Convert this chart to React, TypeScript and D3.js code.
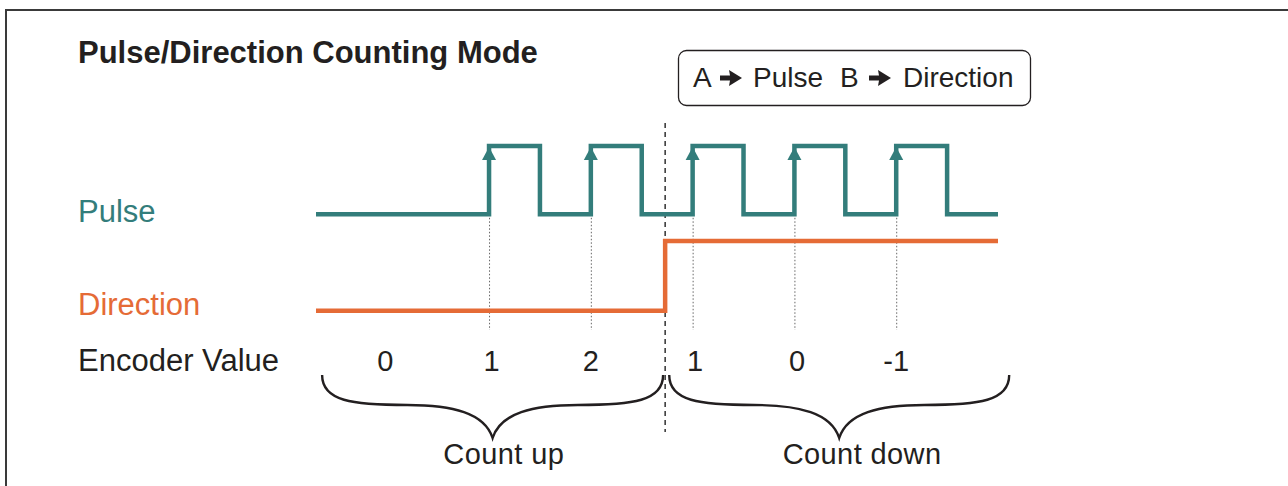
import React from "react";
import * as d3 from "d3";

// ---- data ----
const pulseTimes = [0, 3.4, 4.4, 5.4, 6.4, 7.4, 8.4, 9.4, 10.4, 11.4, 12.4, 13.4];
const pulseLevels = [0, 1, 0, 1, 0, 1, 0, 1, 0, 1, 0, 0];
const directionTimes = [0, 6.86, 13.4];
const directionLevels = [0, 1, 1];
const risingEdges = [3.4, 5.4, 7.4, 9.4, 11.4];
const directionChange = 6.86;
const encoderLabels = ["0", "1", "2", "1", "0", "-1"];
const encoderTimes = [1.36, 3.45, 5.4, 7.45, 9.45, 11.4];
const braceLabels = ["Count up", "Count down"];
const braceStarts = [0.12, 6.94];
const braceEnds = [6.82, 13.62];
const braceLabelTimes = [3.69, 10.73];
const signalLabels = ["Pulse", "Direction", "Encoder Value"];
const title = "Pulse/Direction Counting Mode";

const TEAL = "#337d7b";
const ORANGE = "#e56b36";
const INK = "#231f20";
const FONT = "'Liberation Sans', Arial, Helvetica, sans-serif";

const x = d3.scaleLinear().domain([0, 13.4]).range([316, 998]);
const yPulse = d3.scaleLinear().domain([0, 1]).range([214.3, 146]);
const yDir = d3.scaleLinear().domain([0, 1]).range([310.7, 241]);

const stepLine = (ys: d3.ScaleLinear<number, number>) =>
  d3
    .line<[number, number]>()
    .x((d) => x(d[0]))
    .y((d) => ys(d[1]))
    .curve(d3.curveStepAfter);

function bracePath(x0: number, x1: number, y0: number, yh: number, yt: number) {
  const xm = (x0 + x1) / 2;
  const xa = (x0 + xm) / 2;
  const xb = (xm + x1) / 2;
  return [
    `M${x0},${y0}`,
    `C${x0},${y0 + 26} ${x0 + 30},${yh} ${xa},${yh}`,
    `C${xm - 40},${yh} ${xm - 8},${yh + 8} ${xm},${yt}`,
    `C${xm + 8},${yh + 8} ${xm + 40},${yh} ${xb},${yh}`,
    `C${x1 - 30},${yh} ${x1},${y0 + 26} ${x1},${y0}`,
  ].join(" ");
}

function Arrow({ x0, cy }: { x0: number; cy: number }) {
  const d = `M${x0},${cy - 2.5} L${x0 + 10},${cy - 2.5} L${x0 + 9},${cy - 8} L${x0 + 22},${cy} L${x0 + 9},${cy + 8} L${x0 + 10},${cy + 2.5} L${x0},${cy + 2.5} Z`;
  return <path d={d} fill={INK} />;
}

export default function App() {
  const pulsePts = pulseTimes.map((t, i) => [t, pulseLevels[i]] as [number, number]);
  const dirPts = directionTimes.map((t, i) => [t, directionLevels[i]] as [number, number]);
  const labelYs = [221.7, 315, 370.7];
  const labelColors = [TEAL, ORANGE, INK];
  return (
    <svg
      width={1288}
      height={486}
      style={{ position: "absolute", left: 0, top: 0, background: "#fff" }}
      fontFamily={FONT}
    >
      <rect x={0} y={0} width={1288} height={486} fill="#fff" />
      {/* frame */}
      <rect x={6} y={10} width={1400} height={600} fill="none" stroke="#3a3a3a" strokeWidth={2} />

      {/* title */}
      <text x={78} y={63} fontSize={31} fontWeight="bold" fill={INK}>
        {title}
      </text>

      {/* legend box */}
      <rect x={678.5} y={50.5} width={352} height={55} rx={8} ry={8} fill="#fff" stroke={INK} strokeWidth={1.3} />
      <text x={693} y={87} fontSize={28} fill={INK}>A</text>
      <Arrow x0={720} cy={78} />
      <text x={753} y={87} fontSize={28} fill={INK}>Pulse</text>
      <text x={840} y={87} fontSize={28} fill={INK}>B</text>
      <Arrow x0={869} cy={78} />
      <text x={903} y={87} fontSize={28} fill={INK}>Direction</text>

      {/* signal labels */}
      {signalLabels.map((s, i) => (
        <text key={s} x={78} y={labelYs[i]} fontSize={31} fill={labelColors[i]}>
          {s}
        </text>
      ))}

      {/* dotted guides at rising edges */}
      {risingEdges.map((t) => (
        <line
          key={t}
          x1={x(t) + 0.5}
          x2={x(t) + 0.5}
          y1={yPulse(0)}
          y2={330}
          stroke="#666"
          strokeWidth={1}
          strokeDasharray="1.5,2"
        />
      ))}

      {/* dashed direction change line */}
      <line
        x1={x(directionChange)}
        x2={x(directionChange)}
        y1={123}
        y2={432}
        stroke="#222"
        strokeWidth={1.4}
        strokeDasharray="5,4"
      />

      {/* waveforms */}
      <path d={stepLine(yDir)(dirPts) || ""} fill="none" stroke={ORANGE} strokeWidth={4.5} strokeLinejoin="miter" />
      <path d={stepLine(yPulse)(pulsePts) || ""} fill="none" stroke={TEAL} strokeWidth={4.5} strokeLinejoin="miter" />
      {risingEdges.map((t) => (
        <path
          key={"a" + t}
          d={`M${x(t)},${yPulse(1) + 1} L${x(t) - 7},${yPulse(1) + 14} L${x(t) + 7},${yPulse(1) + 14} Z`}
          fill={TEAL}
        />
      ))}

      {/* encoder values */}
      {encoderLabels.map((v, i) => (
        <text key={i} x={x(encoderTimes[i])} y={371} fontSize={29} fill={INK} textAnchor="middle">
          {v}
        </text>
      ))}

      {/* braces */}
      {braceLabels.map((lab, i) => {
        const x0 = x(braceStarts[i]);
        const x1 = x(braceEnds[i]);
        return (
          <g key={lab}>
            <path d={bracePath(x0, x1, 375, 405, 438)} fill="none" stroke={INK} strokeWidth={2.4} />
            <text x={x(braceLabelTimes[i])} y={464} fontSize={29} fill={INK} textAnchor="middle" letterSpacing={0.4}>
              {lab}
            </text>
          </g>
        );
      })}
    </svg>
  );
}
